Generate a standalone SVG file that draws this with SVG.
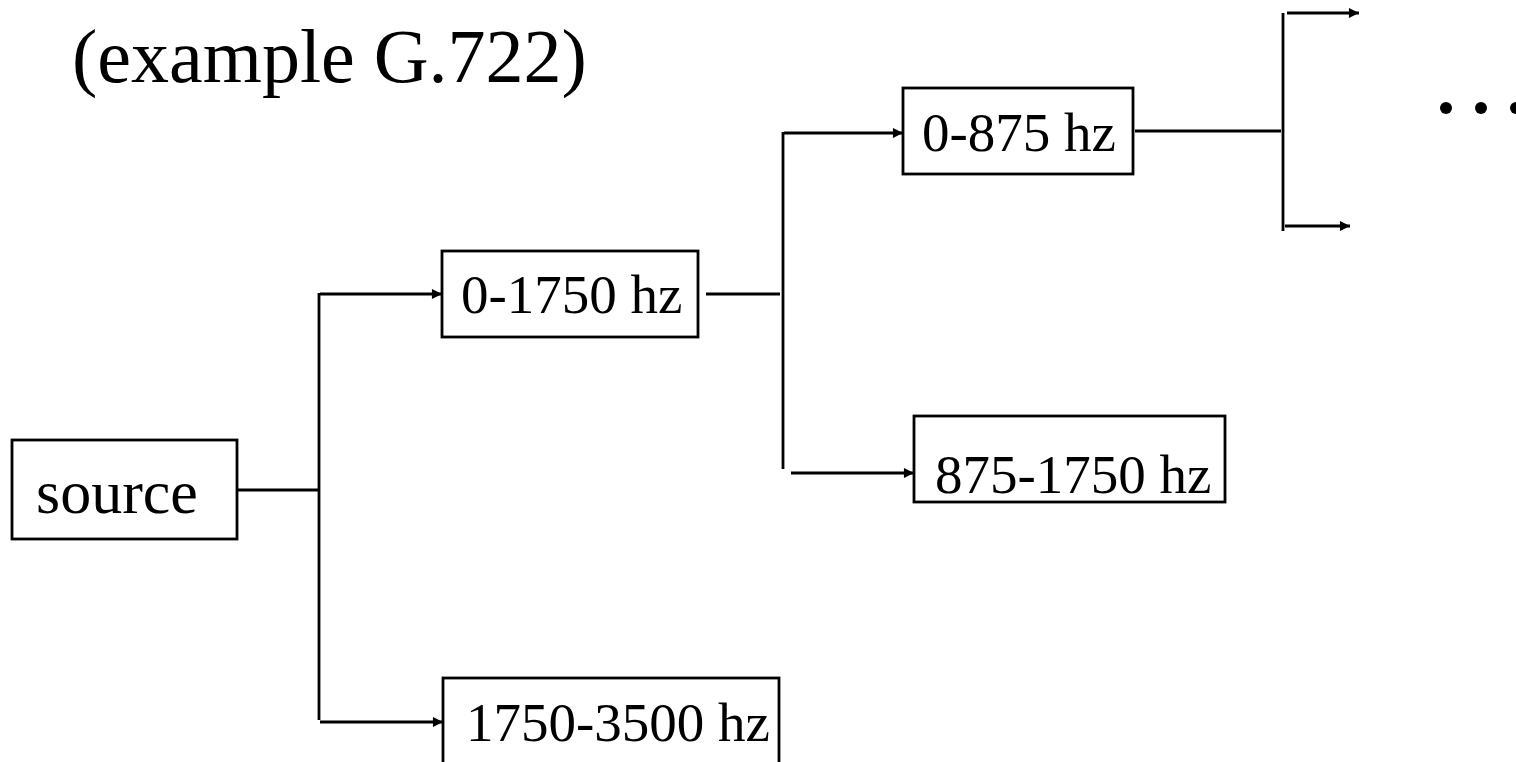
<svg xmlns="http://www.w3.org/2000/svg" width="1516" height="762" viewBox="0 0 1516 762">
<defs>
<style>
.box{fill:#fff;stroke:#000;stroke-width:2.8}
.t{font-family:"Liberation Serif","Times New Roman",serif;fill:#000}
.ln{fill:none;stroke:#000;stroke-width:2.8}
</style>
<marker id="ah" viewBox="0 0 10 10" refX="10" refY="5" markerWidth="4.5" markerHeight="3.6" orient="auto" markerUnits="strokeWidth">
<path d="M0,0 L10,5 L0,10 z" fill="#000"/>
</marker>
</defs>
<rect width="1516" height="762" fill="#fff"/>
<text class="t" x="72" y="82" font-size="76">(example G.722)</text>
<g id="source"><rect class="box" x="12" y="440" width="225" height="99"/><text class="t" x="36" y="513" font-size="62">source</text></g>
<g id="n0-1750"><rect class="box" x="442" y="251" width="256" height="86"/><text class="t" x="461" y="313" font-size="55">0-1750 hz</text></g>
<g id="n1750-3500"><rect class="box" x="443" y="678" width="336" height="100"/><text class="t" x="466" y="741" font-size="55">1750-3500 hz</text></g>
<g id="n0-875"><rect class="box" x="903" y="88" width="230" height="86"/><text class="t" x="922" y="151" font-size="55">0-875 hz</text></g>
<g id="n875-1750"><rect class="box" x="914" y="416" width="311" height="86"/><text class="t" x="935" y="493" font-size="55">875-1750 hz</text></g>
<g id="dots"><circle cx="1446" cy="108" r="6"/><circle cx="1481" cy="108" r="6"/><circle cx="1516" cy="108" r="6"/></g>
<g id="connectors">
<path class="ln" d="M237,490 H319"/>
<path class="ln" d="M319,293 V720"/>
<path class="ln" d="M320,294 H442" marker-end="url(#ah)"/>
<path class="ln" d="M320,722 H443" marker-end="url(#ah)"/>
<path class="ln" d="M706,294 H780"/>
<path class="ln" d="M783,132 V469"/>
<path class="ln" d="M784,133 H903" marker-end="url(#ah)"/>
<path class="ln" d="M791,473 H914" marker-end="url(#ah)"/>
<path class="ln" d="M1135,131 H1281"/>
<path class="ln" d="M1283,13 V231"/>
<path class="ln" d="M1287,13 H1359" marker-end="url(#ah)"/>
<path class="ln" d="M1285,226 H1350" marker-end="url(#ah)"/>
</g>
</svg>
